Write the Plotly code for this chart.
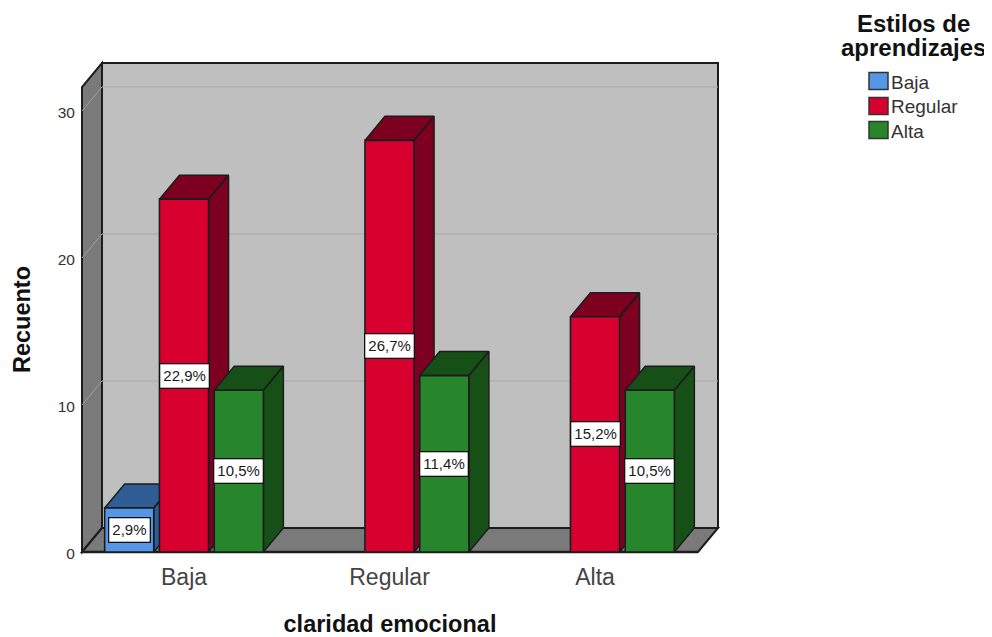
import plotly.graph_objects as go

# ---- data ----
categories = ["Baja", "Regular", "Alta"]
series_names = ["Baja", "Regular", "Alta"]
baja_counts = [3, None, None]
regular_counts = [24, 28, 16]
alta_counts = [11, 12, 11]
baja_labels = ["2,9%", None, None]
regular_labels = ["22,9%", "26,7%", "15,2%"]
alta_labels = ["10,5%", "11,4%", "10,5%"]
legend_title_lines = ["Estilos de", "aprendizajes"]
y_ticks = [0, 10, 20, 30]

# ---- styles ----
front_colors = ["#5596e6", "#d7002f", "#27862b"]
dark_colors = ["#2f5d96", "#7d0021", "#175017"]
WALL = "#bfbfbf"
SIDE = "#7a7a7a"
GRID = "#a9a9a9"
EDGE = "#1c1c1c"
FONT = "Liberation Sans, Arial, sans-serif"

# the page adds an 8px body margin, so the canvas starts at (8, 8)
W, H = 992, 637
L, R, T, B = 74, 302, 79, 93
PW, PH = W - L - R, H - T - B
XMIN, XMAX = -0.4964, 2.5012
YMIN, YMAX = 0, 31.63
DX_PX, DY_PX = 20, 24
DX = DX_PX / PW * (XMAX - XMIN)
DY = DY_PX / PH * (YMAX - YMIN)
PX, PY = DX_PX / PW, DY_PX / PH   # depth in paper fractions
BARGAP, GROUPGAP = 0.2, 0.104
slot = (1 - BARGAP) / 3
bar_w = slot * (1 - GROUPGAP)

all_counts = [baja_counts, regular_counts, alta_counts]
all_labels = [baja_labels, regular_labels, alta_labels]
xpos = list(range(len(categories)))


def pxx(x):
    return (x - 8 - L) / PW


def pxy(y):
    return 1 - (y - 8 - T) / PH


fig = go.Figure()

# walls of the box, behind everything
shapes = [
    dict(type="rect", xref="paper", yref="paper", x0=PX, x1=1 + PX, y0=PY, y1=1 + PY,
         fillcolor=WALL, line=dict(color=EDGE, width=2), layer="below"),
    dict(type="path", xref="paper", yref="paper", layer="below", fillcolor=SIDE,
         line=dict(color=EDGE, width=2),
         path=f"M 0 0 L {PX} {PY} L {PX} {1 + PY} L 0 1 Z"),
    dict(type="path", xref="paper", yref="paper", layer="below", fillcolor=SIDE,
         line=dict(color=EDGE, width=2),
         path=f"M 0 0 L 1 0 L {1 + PX} {PY} L {PX} {PY} Z"),
]
for v in y_ticks[1:]:
    f = v / (YMAX - YMIN)
    shapes.append(dict(type="line", xref="paper", yref="paper", layer="below",
                       x0=PX, x1=1 + PX, y0=f + PY, y1=f + PY,
                       line=dict(color=GRID, width=1)))
    shapes.append(dict(type="line", xref="paper", yref="paper", layer="below",
                       x0=0, x1=PX, y0=f, y1=f + PY,
                       line=dict(color="#a0a0a0", width=1)))
shapes.append(dict(type="line", xref="paper", yref="paper", x0=0, x1=1, y0=0, y1=0,
                   layer="below", line=dict(color=EDGE, width=2.5)))

# side and top faces of each bar, from the values
for s, counts in enumerate(all_counts):
    xs, ys = [], []
    for i, v in zip(xpos, counts):
        if v is None:
            continue
        c = i + (s - 1) * slot
        a, b = c - bar_w / 2, c + bar_w / 2
        xs += [b, b + DX, b + DX, b, b, None]
        ys += [0, DY, v + DY, v, 0, None]
        xs += [a, b, b + DX, a + DX, a, None]
        ys += [v, v, v + DY, v + DY, v, None]
    fig.add_trace(go.Scatter(x=xs, y=ys, mode="lines", fill="toself",
                             fillcolor=dark_colors[s],
                             line=dict(color=EDGE, width=1.5),
                             hoverinfo="skip", showlegend=False))

# front faces on an overlaid subplot so that they cover the side faces
for s, counts in enumerate(all_counts):
    fig.add_trace(go.Bar(x=xpos, y=counts, name=series_names[s], xaxis="x2", yaxis="y2",
                         marker=dict(color=front_colors[s], line=dict(color=EDGE, width=1.6)),
                         showlegend=False))

annotations = []
for s, (counts, labels) in enumerate(zip(all_counts, all_labels)):
    for i, v, t in zip(xpos, counts, labels):
        if v is None:
            continue
        annotations.append(dict(x=i + (s - 1) * slot, y=v / 2, xref="x", yref="y", text=t,
                                showarrow=False, bgcolor="white", bordercolor="#111111",
                                borderwidth=1.3, borderpad=3,
                                font=dict(family=FONT, size=15, color="#1a1a1a")))

# legend, placed to match the tight swatch/text spacing of the reference
for line, yc in zip(legend_title_lines, [24, 47]):
    annotations.append(dict(xref="paper", yref="paper", x=pxx(913), y=pxy(yc), showarrow=False,
                            text=f"<b>{line}</b>", xanchor="center", yanchor="middle",
                            font=dict(family=FONT, size=24, color="#111111")))
legend_centres = [81, 106, 130]
for s, name in enumerate(series_names):
    yc = legend_centres[s]
    shapes.append(dict(type="rect", xref="paper", yref="paper",
                       x0=pxx(869), x1=pxx(888), y0=pxy(yc + 8.5), y1=pxy(yc - 8.5),
                       fillcolor=front_colors[s], line=dict(color="#333333", width=1.5)))
    annotations.append(dict(xref="paper", yref="paper", x=pxx(889), y=pxy(yc + 1),
                            showarrow=False, text=name, xanchor="left", yanchor="middle",
                            font=dict(family=FONT, size=19, color="#333333")))

axis_common = dict(showgrid=False, zeroline=False)
fig.update_layout(
    width=W, height=H, autosize=False,
    margin=dict(l=L, r=R, t=T, b=B, pad=0),
    paper_bgcolor="white", plot_bgcolor="rgba(0,0,0,0)",
    font=dict(family=FONT, color="#333333"),
    barmode="group", bargap=BARGAP, bargroupgap=GROUPGAP,
    showlegend=False,
    shapes=shapes, annotations=annotations,
    xaxis=dict(range=[XMIN, XMAX], tickvals=xpos, ticktext=categories, automargin=False,
               ticks="outside", ticklen=4, tickcolor="rgba(0,0,0,0)",
               showline=False, tickfont=dict(size=23, color="#444444"),
               title=dict(text="<b>claridad emocional</b>", standoff=26,
                          font=dict(size=23.5, color="#111111")), **axis_common),
    yaxis=dict(range=[YMIN, YMAX], tickvals=y_ticks, ticks="outside", ticklen=3,
               tickcolor="rgba(0,0,0,0)", ticklabelshift=2,
               automargin=False,
               showline=False, tickfont=dict(size=15.5, color="#333333"),
               title=dict(text="<b>Recuento</b>", standoff=20,
                          font=dict(size=23.5, color="#111111")), **axis_common),
    xaxis2=dict(range=[XMIN, XMAX], overlaying="x", visible=False),
    yaxis2=dict(range=[YMIN, YMAX], overlaying="y", visible=False),
)
fig.write_html("out.html")
